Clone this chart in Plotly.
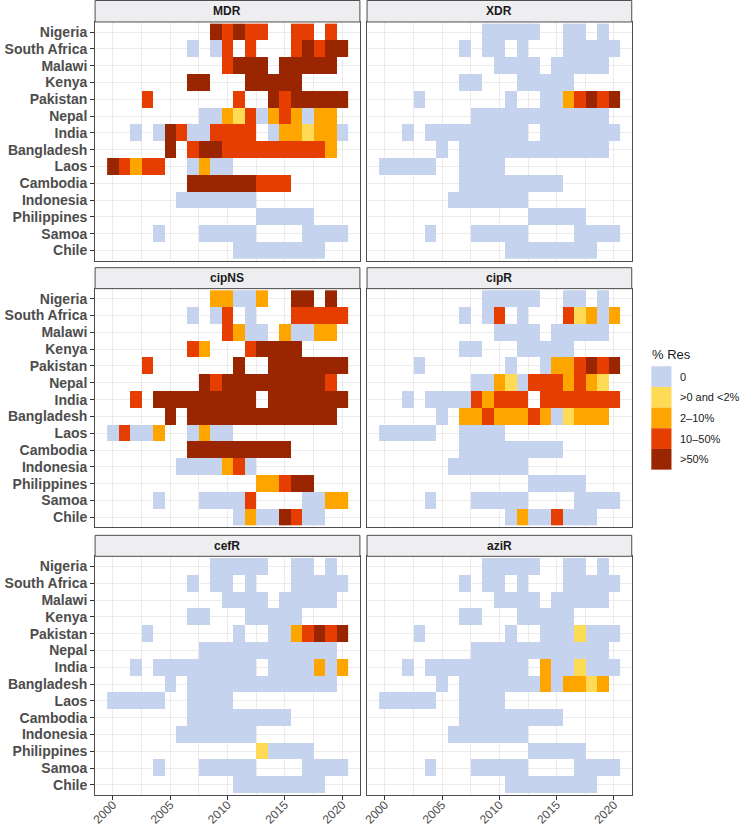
import plotly.graph_objects as go

# ---------------- data ----------------
countries = ["Nigeria", "South Africa", "Malawi", "Kenya", "Pakistan", "Nepal", "India",
             "Bangladesh", "Laos", "Cambodia", "Indonesia", "Philippines", "Samoa", "Chile"]
years = list(range(2000, 2021))
categories = ["0", ">0 and <2%", "2\u201310%", "10\u201350%", ">50%"]
cat_colors = ["#C6D3EF", "#FFDA55", "#FFA500", "#E63D00", "#992600"]
x_ticks = [2000, 2005, 2010, 2015, 2020]

# Each string: one char per year 2000..2020; '.' = no data, digit = index into categories
MDR = [
    ".........43433..33.3.",
    ".......0.03.3...34344",
    "..........3444.44444.",
    ".......44...44444....",
    "...3.......3..4344444",
    "........002130232022.",
    "..0.043003333.0221220",
    ".....4.3443333333332.",
    "43233..0200..........",
    ".......444444333.....",
    "......0000000........",
    ".............00000...",
    "....0...00000....0000",
    "...........00000000..",
]
XDR = [
    ".........00000..00.0.",
    ".......0.00.0...00000",
    "..........0000.00000.",
    ".......00...00000....",
    "...0.......0..0023434",
    "........000000000000.",
    "..0.000000000.0000000",
    ".....0.0000000000000.",
    "00000..0000..........",
    ".......000000000.....",
    "......0000000........",
    ".............00000...",
    "....0...00000....0000",
    "...........00000000..",
]
cipNS = [
    ".........22002..44.4.",
    ".......0.03.0...33333",
    "..........3200.20022.",
    ".......32...34444....",
    "...3.......4..4444444",
    "........434444444443.",
    "..3.444444444.4444444",
    ".....4.4444444444444.",
    "03002..0200..........",
    ".......444444444.....",
    "......0000230........",
    ".............22344...",
    "....0...00003....0022",
    "...........02004300..",
]
cipR = [
    ".........00000..00.0.",
    ".......0.03.0...31202",
    "..........0000.00000.",
    ".......00...00000....",
    "...0.......0..0223434",
    "........002103332321.",
    "..0.000032333.3333333",
    ".....0.2232223201222.",
    "00000..0000..........",
    ".......000000000.....",
    "......0000000........",
    ".............00000...",
    "....0...00000....0000",
    "...........02003000..",
]
cefR = [
    ".........00000..00.0.",
    ".......0.00.0...00000",
    "..........0000.00000.",
    ".......00...00000....",
    "...0.......0..0023434",
    "........000000000000.",
    "..0.000000000.0000202",
    ".....0.0000000000000.",
    "00000..0000..........",
    ".......000000000.....",
    "......0000000........",
    ".............10000...",
    "....0...00000....0000",
    "...........00000000..",
]
aziR = [
    ".........00000..00.0.",
    ".......0.00.0...00000",
    "..........0000.00000.",
    ".......00...00000....",
    "...0.......0..0001000",
    "........000000000000.",
    "..0.000000000.2001000",
    ".....0.0000000202212.",
    "00000..0000..........",
    ".......000000000.....",
    "......0000000........",
    ".............00000...",
    "....0...00000....0000",
    "...........00000000..",
]
panel_names = ["MDR", "XDR", "cipNS", "cipR", "cefR", "aziR"]
panel_data = [MDR, XDR, cipNS, cipR, cefR, aziR]

# ---------------- layout geometry ----------------
W, H = 742, 827
FONT = "Liberation Sans, Arial, sans-serif"
GRID = "#EBEBEB"
BORDER = "#4D4D4D"

def px_x(v):
    return v / W

def px_y(v):
    return 1 - v / H

x_domains = [[px_x(90.7), px_x(357.3)], [px_x(364.5), px_x(631.0)]]
row_px = [(22, 261), (289, 528), (557, 796)]
strip_px = [(0.5, 22), (268, 289), (536, 557)]

def to_z(rows):
    z = []
    for r in rows:
        z.append([None if ch == "." else int(ch) for ch in r])
    return z

n = len(categories)
colorscale = []
for i, c in enumerate(cat_colors):
    colorscale.append([i / n, c])
    colorscale.append([(i + 1) / n, c])

fig = go.Figure()
shapes = []
annotations = []

for k, (name, rows) in enumerate(zip(panel_names, panel_data)):
    r, c = divmod(k, 2)
    idx = k + 1
    xa = "x" if idx == 1 else f"x{idx}"
    ya = "y" if idx == 1 else f"y{idx}"
    fig.add_trace(go.Heatmap(
        x=years, y=countries, z=to_z(rows),
        zmin=-0.5, zmax=n - 0.5, colorscale=colorscale, showscale=False,
        xaxis=xa, yaxis=ya, hoverongaps=False,
    ))
    top, bot = row_px[r]
    xkey = "xaxis" if idx == 1 else f"xaxis{idx}"
    ykey = "yaxis" if idx == 1 else f"yaxis{idx}"
    bottom_row = (r == 2)
    left_col = (c == 0)
    fig.layout[xkey] = dict(
        domain=x_domains[c], anchor=ya, range=[1998.45, 2021.55],
        tickmode="array", tickvals=x_ticks, ticktext=[str(t) for t in x_ticks],
        showticklabels=bottom_row, ticks="outside" if bottom_row else "",
        ticklen=4, tickcolor="#333333", tickwidth=1,
        tickangle=-45, ticklabelstandoff=-7,
        tickfont=dict(family=FONT, size=12, color="#4D4D4D"),
        showgrid=True, gridcolor=GRID, gridwidth=1,
        minor=dict(tickmode="array", tickvals=[2002.5, 2007.5, 2012.5, 2017.5],
                   showgrid=True, gridcolor=GRID, gridwidth=0.6),
        showline=True, linecolor=BORDER, linewidth=1, mirror=True,
        zeroline=False, fixedrange=True,
    )
    fig.layout[ykey] = dict(
        domain=[px_y(bot), px_y(top)], anchor=xa,
        type="category", categoryorder="array", categoryarray=countries,
        tickmode="array", tickvals=countries, ticktext=countries,
        range=[len(countries) - 0.4, -0.6],
        showticklabels=left_col, ticks="outside" if left_col else "",
        ticklen=4, tickcolor="#333333", tickwidth=1,
        tickfont=dict(family=FONT, size=14, color="#4D4D4D", weight="bold"),
        showgrid=True, gridcolor=GRID, gridwidth=1,
        showline=True, linecolor=BORDER, linewidth=1, mirror=True,
        zeroline=False, fixedrange=True,
    )
    # strip
    s_top, s_bot = strip_px[r]
    shapes.append(dict(type="rect", xref="paper", yref="paper",
                       x0=x_domains[c][0], x1=x_domains[c][1],
                       y0=px_y(s_bot), y1=px_y(s_top),
                       fillcolor="#EEEEF1", line=dict(color=BORDER, width=1), layer="above"))
    annotations.append(dict(xref="paper", yref="paper",
                            x=(x_domains[c][0] + x_domains[c][1]) / 2,
                            y=px_y((s_top + s_bot) / 2),
                            text=f"<b>{name}</b>", showarrow=False,
                            font=dict(family=FONT, size=12, color="#1A1A1A"),
                            xanchor="center", yanchor="middle"))

# legend (drawn manually to match ggplot key blocks)
annotations.append(dict(xref="paper", yref="paper", x=px_x(649.0), y=px_y(355),
                        text="% Res", showarrow=False, xanchor="left", yanchor="middle",
                        font=dict(family=FONT, size=13, color="#1A1A1A")))
key_top = 366.7
key_h = 20.7
for i, (lab, col) in enumerate(zip(categories, cat_colors)):
    y0 = key_top + i * key_h
    shapes.append(dict(type="rect", xref="paper", yref="paper",
                       x0=px_x(650.7), x1=px_x(671.0),
                       y0=px_y(y0 + key_h), y1=px_y(y0),
                       fillcolor=col, line=dict(width=0)))
    annotations.append(dict(xref="paper", yref="paper", x=px_x(677.5), y=px_y(y0 + key_h / 2),
                            text=lab.replace("<", "&lt;").replace(">", "&gt;"),
                            showarrow=False, xanchor="left", yanchor="middle",
                            font=dict(family=FONT, size=11, color="#1A1A1A")))

fig.update_layout(
    width=W, height=H, autosize=False,
    margin=dict(l=0, r=0, t=0, b=0),
    paper_bgcolor="white", plot_bgcolor="white",
    shapes=shapes, annotations=annotations,
    showlegend=False,
    font=dict(family=FONT),
)

fig.write_html("out.html", config={"displayModeBar": False},
               post_script="document.body.style.margin='0';document.body.style.padding='0';")
